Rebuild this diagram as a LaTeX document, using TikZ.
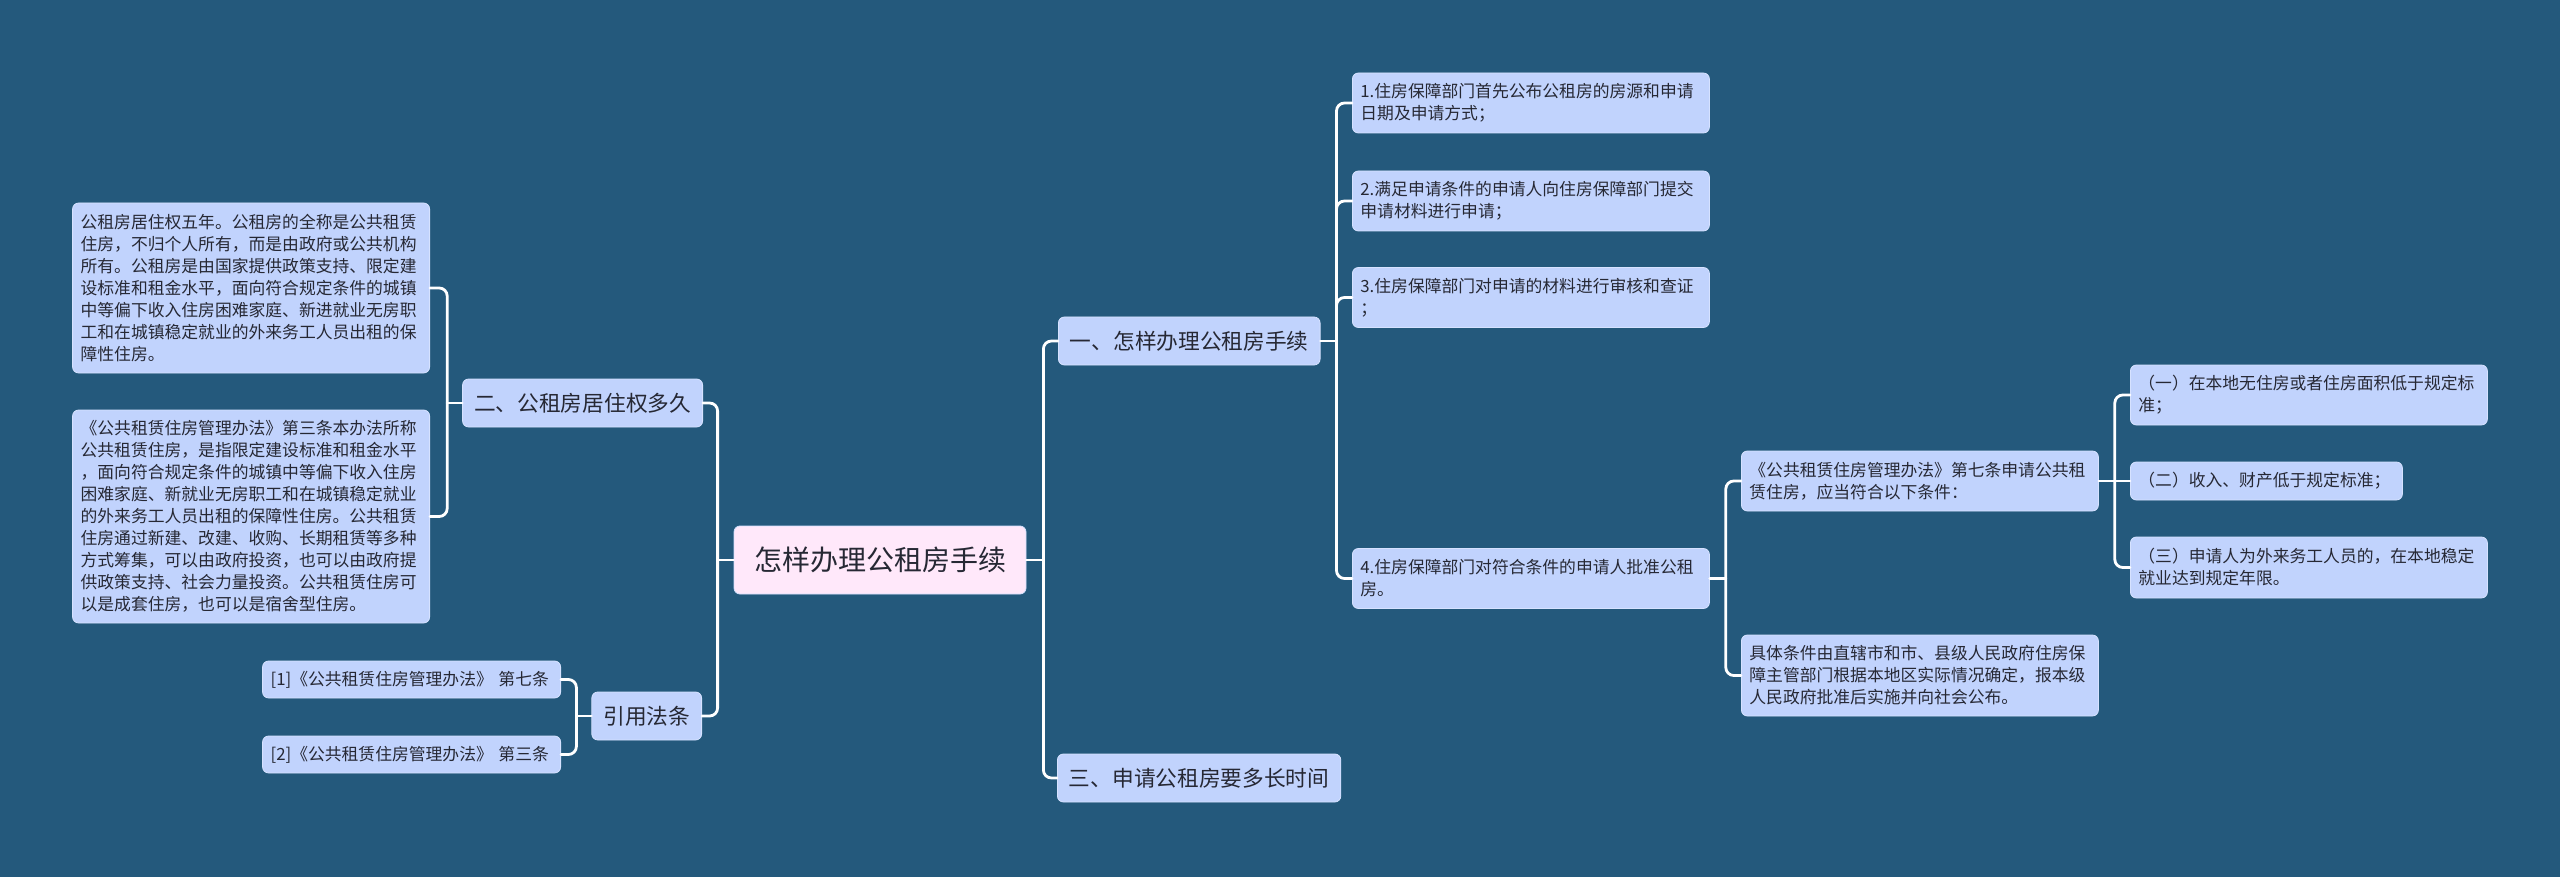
\documentclass[tikz,border=0pt]{standalone}
\usepackage{fontspec}
\newfontfamily\cjk{Noto Sans CJK SC}
\usetikzlibrary{calc}
\definecolor{bg}{RGB}{36,89,124}
\definecolor{boxfill}{RGB}{193,211,253}
\definecolor{rootfill}{RGB}{255,232,250}
\definecolor{txt}{RGB}{38,40,52}
\definecolor{boxline}{RGB}{214,226,255}
\begin{document}
\begin{tikzpicture}[x=1pt,y=-1pt,
  base/.style={rounded corners=6pt, fill=boxfill, draw=boxline, line width=0.8pt, text=txt},
  small/.style={base, font=\cjk\fontsize{16.8}{22}\selectfont, align=left, inner xsep=8pt, inner ysep=0pt},
  mid/.style={base, font=\cjk\fontsize{21.7}{26}\selectfont, inner xsep=11.5pt, inner ysep=0pt, minimum height=48pt},
  rootbox/.style={base, fill=rootfill, font=\cjk\fontsize{28}{32}\selectfont, minimum width=292pt, minimum height=68pt},
  conn/.style={draw=white, line width=2.8pt, rounded corners=8pt, line cap=round},
]
\useasboundingbox (0,0) rectangle (2560,877);
\fill[bg] (0,0) rectangle (2560,877);

% root
\node[rootbox] (C) at (880,560) {怎样办理公租房手续};

% level 1
\node[mid, anchor=west] (A1) at (1058,341) {一、怎样办理公租房手续};
\node[mid, anchor=west] (A3) at (1057,778) {三、申请公租房要多长时间};
\node[mid, anchor=east] (B2) at (703,403) {二、公租房居住权多久};
\node[mid, anchor=east] (B3) at (702,716) {引用法条};

% steps
\node[small, text width=341pt, minimum height=60pt, anchor=west] (S1) at (1352,103) {1.住房保障部门首先公布公租房的房源和申请\\日期及申请方式；};
\node[small, text width=341pt, minimum height=60pt, anchor=west] (S2) at (1352,201) {2.满足申请条件的申请人向住房保障部门提交\\申请材料进行申请；};
\node[small, text width=341pt, minimum height=60pt, anchor=west] (S3) at (1352,297.5) {3.住房保障部门对申请的材料进行审核和查证\\；};
\node[small, text width=341pt, minimum height=60pt, anchor=west] (S4) at (1352,578.5) {4.住房保障部门对符合条件的申请人批准公租\\房。};

% level 3
\node[small, text width=341pt, minimum height=60pt, anchor=west] (L1) at (1741,481) {《公共租赁住房管理办法》第七条申请公共租\\赁住房，应当符合以下条件：};
\node[small, text width=341pt, minimum height=81pt, anchor=west] (L2) at (1741,675.5) {具体条件由直辖市和市、县级人民政府住房保\\障主管部门根据本地区实际情况确定，报本级\\人民政府批准后实施并向社会公布。};

% level 4
\node[small, text width=341pt, minimum height=60pt, anchor=west] (R1) at (2130,395) {（一）在本地无住房或者住房面积低于规定标\\准；};
\node[small, text width=256pt, minimum height=38pt, anchor=west] (R2) at (2130,481) {（二）收入、财产低于规定标准；};
\node[small, text width=341pt, minimum height=61pt, anchor=west] (R3) at (2130,567.5) {（三）申请人为外来务工人员的，在本地稳定\\就业达到规定年限。};

% left big boxes
\node[small, text width=341pt, minimum height=170pt, anchor=east] (E1) at (430,288) {公租房居住权五年。公租房的全称是公共租赁\\住房，不归个人所有，而是由政府或公共机构\\所有。公租房是由国家提供政策支持、限定建\\设标准和租金水平，面向符合规定条件的城镇\\中等偏下收入住房困难家庭、新进就业无房职\\工和在城镇稳定就业的外来务工人员出租的保\\障性住房。};
\node[small, text width=341pt, minimum height=213pt, anchor=east] (E2) at (430,516.5) {《公共租赁住房管理办法》第三条本办法所称\\公共租赁住房，是指限定建设标准和租金水平\\，面向符合规定条件的城镇中等偏下收入住房\\困难家庭、新就业无房职工和在城镇稳定就业\\的外来务工人员出租的保障性住房。公共租赁\\住房通过新建、改建、收购、长期租赁等多种\\方式筹集，可以由政府投资，也可以由政府提\\供政策支持、社会力量投资。公共租赁住房可\\以是成套住房，也可以是宿舍型住房。};

% citations
\node[small, text width=282pt, minimum height=37pt, anchor=east] (K1) at (561,679.5) {[1]《公共租赁住房管理办法》 第七条};
\node[small, text width=282pt, minimum height=37pt, anchor=east] (K2) at (561,754.5) {[2]《公共租赁住房管理办法》 第三条};

% bus coordinates
\coordinate (bC) at ([xshift=17pt]C.east);
\coordinate (bCL) at ([xshift=-16pt]C.west);
\coordinate (bB2) at ([xshift=-15pt]B2.west);
\coordinate (bB3) at ([xshift=-15pt]B3.west);
\coordinate (bA1) at ([xshift=16pt]A1.east);
\coordinate (bS4) at ([xshift=16pt]S4.east);
\coordinate (bL1) at ([xshift=16pt]L1.east);

% connectors
\draw[conn] (C.east) -- (bC);
\draw[conn] (bC) |- (A1.west);
\draw[conn] (bC) |- (A3.west);
\draw[conn] (C.west) -- (bCL);
\draw[conn] (bCL) |- (B2.east);
\draw[conn] (bCL) |- (B3.east);
\draw[conn] (B2.west) -- (bB2);
\draw[conn] (bB2) |- (E1.east);
\draw[conn] (bB2) |- (E2.east);
\draw[conn] (B3.west) -- (bB3);
\draw[conn] (bB3) |- (K1.east);
\draw[conn] (bB3) |- (K2.east);
\draw[conn] (A1.east) -- (bA1);
\draw[conn] (bA1) |- (S1.west);
\draw[conn] (bA1) |- (S2.west);
\draw[conn] (bA1) |- (S3.west);
\draw[conn] (bA1) |- (S4.west);
\draw[conn] (S4.east) -- (bS4);
\draw[conn] (bS4) |- (L1.west);
\draw[conn] (bS4) |- (L2.west);
\draw[conn] (L1.east) -- (bL1);
\draw[conn] (bL1) |- (R1.west);
\draw[conn] (bL1) -- (R2.west);
\draw[conn] (bL1) |- (R3.west);
\end{tikzpicture}
\end{document}
